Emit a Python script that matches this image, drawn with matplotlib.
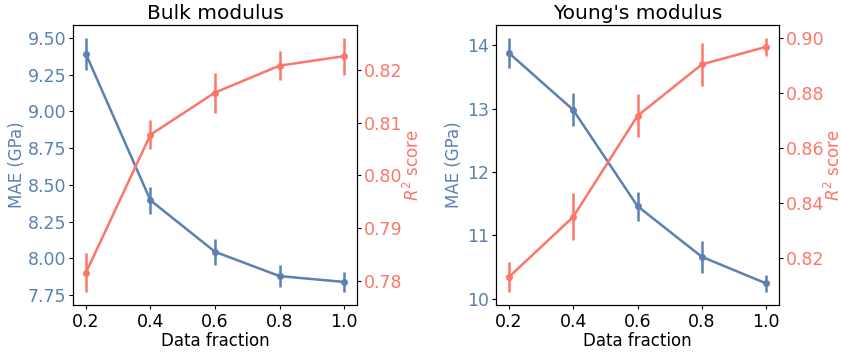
import matplotlib
matplotlib.use("Agg")
import matplotlib.pyplot as plt
from matplotlib.ticker import MultipleLocator, FormatStrFormatter

# data fractions used for training
fractions = [0.2, 0.4, 0.6, 0.8, 1.0]

# bulk modulus: MAE (GPa) and R^2, with std
bulk_mae = [9.39, 8.395, 8.045, 7.88, 7.84]
bulk_mae_err = [0.11, 0.09, 0.09, 0.075, 0.07]
bulk_r2 = [0.7815, 0.8077, 0.8157, 0.8208, 0.8226]
bulk_r2_err = [0.0037, 0.0028, 0.0038, 0.0027, 0.0035]

# young's modulus
young_mae = [13.88, 12.98, 11.46, 10.66, 10.24]
young_mae_err = [0.24, 0.26, 0.23, 0.25, 0.14]
young_r2 = [0.8131, 0.835, 0.8717, 0.8904, 0.8968]
young_r2_err = [0.0055, 0.0085, 0.0078, 0.0077, 0.0033]

blue = '#5b80b2'
red = '#fc766a'

plt.rcParams['font.size'] = 12
plt.rcParams['xtick.major.size'] = 3
plt.rcParams['ytick.major.size'] = 3
plt.rcParams['xtick.major.pad'] = 2.5
plt.rcParams['ytick.major.pad'] = 2

fig = plt.figure(figsize=(8.42, 3.52), dpi=100)
W, H = 842, 352
# title, data, axes left/right px, tick steps + formats, label positions (axes coords)
panels = [
    ("Bulk modulus", bulk_mae, bulk_mae_err, bulk_r2, bulk_r2_err, 73, 357,
     0.25, '%.2f', 0.01, '%.2f', -0.165, 1.162),
    ("Young's modulus", young_mae, young_mae_err, young_r2, young_r2_err, 496, 779,
     1, '%d', 0.02, '%.2f', -0.117, 1.158),
]
for title, mae, mae_err, r2, r2_err, x0, x1, st1, f1, st2, f2, lx1, lx2 in panels:
    ax = fig.add_axes([x0 / W, 1 - 305 / H, (x1 - x0) / W, (305 - 25) / H])
    ax.errorbar(fractions, mae, yerr=mae_err, color=blue, marker='o', ms=4, lw=1.8, elinewidth=1.8)
    ax.yaxis.set_major_locator(MultipleLocator(st1))
    ax.yaxis.set_major_formatter(FormatStrFormatter(f1))
    ax.set_ylabel('MAE (GPa)', color=blue)
    ax.yaxis.set_label_coords(lx1, 0.5)
    ax.tick_params(axis='y', labelcolor=blue, labelsize=12.5)
    ax.tick_params(axis='x', labelsize=12.5)
    ax.set_xlabel('Data fraction', labelpad=1)
    ax.set_xticks(fractions)
    ax.set_title(title, fontsize=14.5, pad=4)
    ax2 = ax.twinx()
    ax2.errorbar(fractions, r2, yerr=r2_err, color=red, marker='o', ms=4, lw=1.8, elinewidth=1.8)
    ax2.yaxis.set_major_locator(MultipleLocator(st2))
    ax2.yaxis.set_major_formatter(FormatStrFormatter(f2))
    ax2.set_ylabel('$R^2$ score', color=red)
    ax2.yaxis.set_label_coords(lx2, 0.5)
    ax2.tick_params(axis='y', labelcolor=red, labelsize=12.5)

fig.savefig('out.png', dpi=100)
